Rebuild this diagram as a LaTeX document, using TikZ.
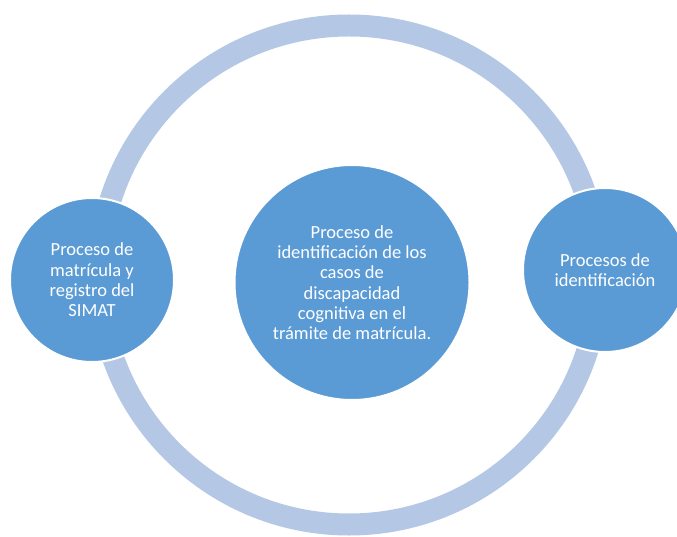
\documentclass[tikz,border=0pt]{standalone}
\usepackage{fontspec}
\setmainfont{Carlito}
\definecolor{ringblue}{HTML}{B4C8E6}
\definecolor{nodeblue}{HTML}{5B9BD5}
\tikzset{
  x=1pt, y=1pt,
  procnode/.style={circle, fill=nodeblue, draw=white, line width=2pt, inner sep=0pt,
    text=white, align=center, font=\fontsize{18.5}{20.3}\selectfont},
  ringline/.style={draw=ringblue, line width=22pt}
}
\begin{document}
\begin{tikzpicture}
\useasboundingbox (0,0) rectangle (677,536);
\clip (0,0) rectangle (677,536);
\fill[white] (0,0) rectangle (677,536);
\coordinate (rc) at (349,261);
\draw[ringline] (rc) ellipse [x radius=250, y radius=249.5];
\node[procnode, minimum size=164pt] (left) at (92,256) {Proceso de\\matrícula y\\registro del\\SIMAT};
\node[procnode, minimum size=235pt] (center) at (352,253.5) {Proceso de\\identificación de los\\casos de\\discapacidad\\cognitiva en el\\trámite de matrícula.};
\node[procnode, minimum size=164pt] (right) at (605,266) {Procesos de\\identificación};
\end{tikzpicture}
\end{document}
